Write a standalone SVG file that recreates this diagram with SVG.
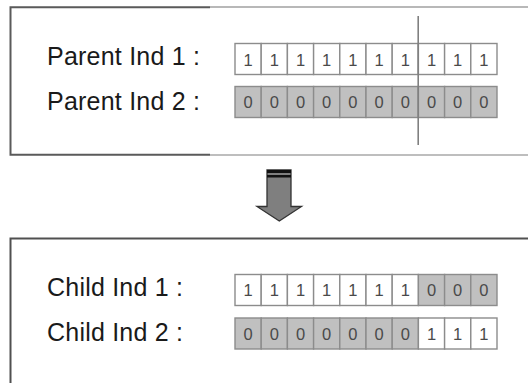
<svg xmlns="http://www.w3.org/2000/svg" width="528" height="383" viewBox="0 0 528 383">
<style>
.lbl{font-family:"Liberation Sans",Arial,sans-serif;font-size:25px;fill:#1a1a1a}
.d{font-family:"Liberation Sans",Arial,sans-serif;font-size:16.5px;fill:#4a4a4a;text-anchor:middle}
.w{fill:#fff;stroke:#8c8c8c;stroke-width:1.4}
.g{fill:#c0c0c0;stroke:#8c8c8c;stroke-width:1.4}
</style>
<defs>
<rect id="cw" class="w" width="26.2" height="31"/>
<rect id="cg" class="g" width="26.2" height="31"/>
</defs>
<rect width="528" height="383" fill="#fff"/>
<g id="parent-panel">
<path d="M210 7H528" stroke="#a0a0a0" stroke-width="1.5" fill="none"/>
<path d="M210 155H528" stroke="#a8a8a8" stroke-width="1.5" fill="none"/>
<path d="M210 7.3H10.5V154.7H210" stroke="#5a5a5a" stroke-width="2" fill="none"/>
<text class="lbl" x="47" y="64.5" textLength="153">Parent Ind 1 :</text>
<text class="lbl" x="47" y="110" textLength="153">Parent Ind 2 :</text>
<g id="parent1">
<use href="#cw" x="235" y="43.5"/><use href="#cw" x="261.2" y="43.5"/><use href="#cw" x="287.4" y="43.5"/><use href="#cw" x="313.6" y="43.5"/><use href="#cw" x="339.8" y="43.5"/><use href="#cw" x="366" y="43.5"/><use href="#cw" x="392.2" y="43.5"/><use href="#cw" x="418.4" y="43.5"/><use href="#cw" x="444.6" y="43.5"/><use href="#cw" x="470.8" y="43.5"/>
<g class="d"><text x="248.1" y="65.5">1</text><text x="274.3" y="65.5">1</text><text x="300.5" y="65.5">1</text><text x="326.7" y="65.5">1</text><text x="352.9" y="65.5">1</text><text x="379.1" y="65.5">1</text><text x="405.3" y="65.5">1</text><text x="431.5" y="65.5">1</text><text x="457.7" y="65.5">1</text><text x="483.9" y="65.5">1</text></g>
</g>
<g id="parent2">
<use href="#cg" x="235" y="86.5"/><use href="#cg" x="261.2" y="86.5"/><use href="#cg" x="287.4" y="86.5"/><use href="#cg" x="313.6" y="86.5"/><use href="#cg" x="339.8" y="86.5"/><use href="#cg" x="366" y="86.5"/><use href="#cg" x="392.2" y="86.5"/><use href="#cg" x="418.4" y="86.5"/><use href="#cg" x="444.6" y="86.5"/><use href="#cg" x="470.8" y="86.5"/>
<g class="d"><text x="248.1" y="108.3">0</text><text x="274.3" y="108.3">0</text><text x="300.5" y="108.3">0</text><text x="326.7" y="108.3">0</text><text x="352.9" y="108.3">0</text><text x="379.1" y="108.3">0</text><text x="405.3" y="108.3">0</text><text x="431.5" y="108.3">0</text><text x="457.7" y="108.3">0</text><text x="483.9" y="108.3">0</text></g>
</g>
<path id="cut" d="M418.2 16V145" stroke="#808080" stroke-width="1.6"/>
</g>
<g id="arrow">
<path d="M267 170H291V206.5H301.5L279.3 221L257 206.5H267Z" fill="#7f7f7f" stroke="#333" stroke-width="1.3" stroke-linejoin="miter"/>
<rect x="267" y="170" width="24" height="3" fill="#111"/>
<rect x="267" y="175" width="24" height="2.5" fill="#111"/>
</g>
<g id="child-panel">
<path d="M10.5 383V238.5H528" stroke="#505050" stroke-width="2" fill="none"/>
<text class="lbl" x="47" y="296" textLength="136">Child Ind 1 :</text>
<text class="lbl" x="47" y="341" textLength="136">Child Ind 2 :</text>
<g id="child1">
<use href="#cw" x="235" y="274.5"/><use href="#cw" x="261.2" y="274.5"/><use href="#cw" x="287.4" y="274.5"/><use href="#cw" x="313.6" y="274.5"/><use href="#cw" x="339.8" y="274.5"/><use href="#cw" x="366" y="274.5"/><use href="#cw" x="392.2" y="274.5"/><use href="#cg" x="418.4" y="274.5"/><use href="#cg" x="444.6" y="274.5"/><use href="#cg" x="470.8" y="274.5"/>
<g class="d"><text x="248.1" y="296.3">1</text><text x="274.3" y="296.3">1</text><text x="300.5" y="296.3">1</text><text x="326.7" y="296.3">1</text><text x="352.9" y="296.3">1</text><text x="379.1" y="296.3">1</text><text x="405.3" y="296.3">1</text><text x="431.5" y="296.3">0</text><text x="457.7" y="296.3">0</text><text x="483.9" y="296.3">0</text></g>
</g>
<g id="child2">
<use href="#cg" x="235" y="318"/><use href="#cg" x="261.2" y="318"/><use href="#cg" x="287.4" y="318"/><use href="#cg" x="313.6" y="318"/><use href="#cg" x="339.8" y="318"/><use href="#cg" x="366" y="318"/><use href="#cg" x="392.2" y="318"/><use href="#cw" x="418.4" y="318"/><use href="#cw" x="444.6" y="318"/><use href="#cw" x="470.8" y="318"/>
<g class="d"><text x="248.1" y="339.8">0</text><text x="274.3" y="339.8">0</text><text x="300.5" y="339.8">0</text><text x="326.7" y="339.8">0</text><text x="352.9" y="339.8">0</text><text x="379.1" y="339.8">0</text><text x="405.3" y="339.8">0</text><text x="431.5" y="339.8">1</text><text x="457.7" y="339.8">1</text><text x="483.9" y="339.8">1</text></g>
</g>
</g>
</svg>
